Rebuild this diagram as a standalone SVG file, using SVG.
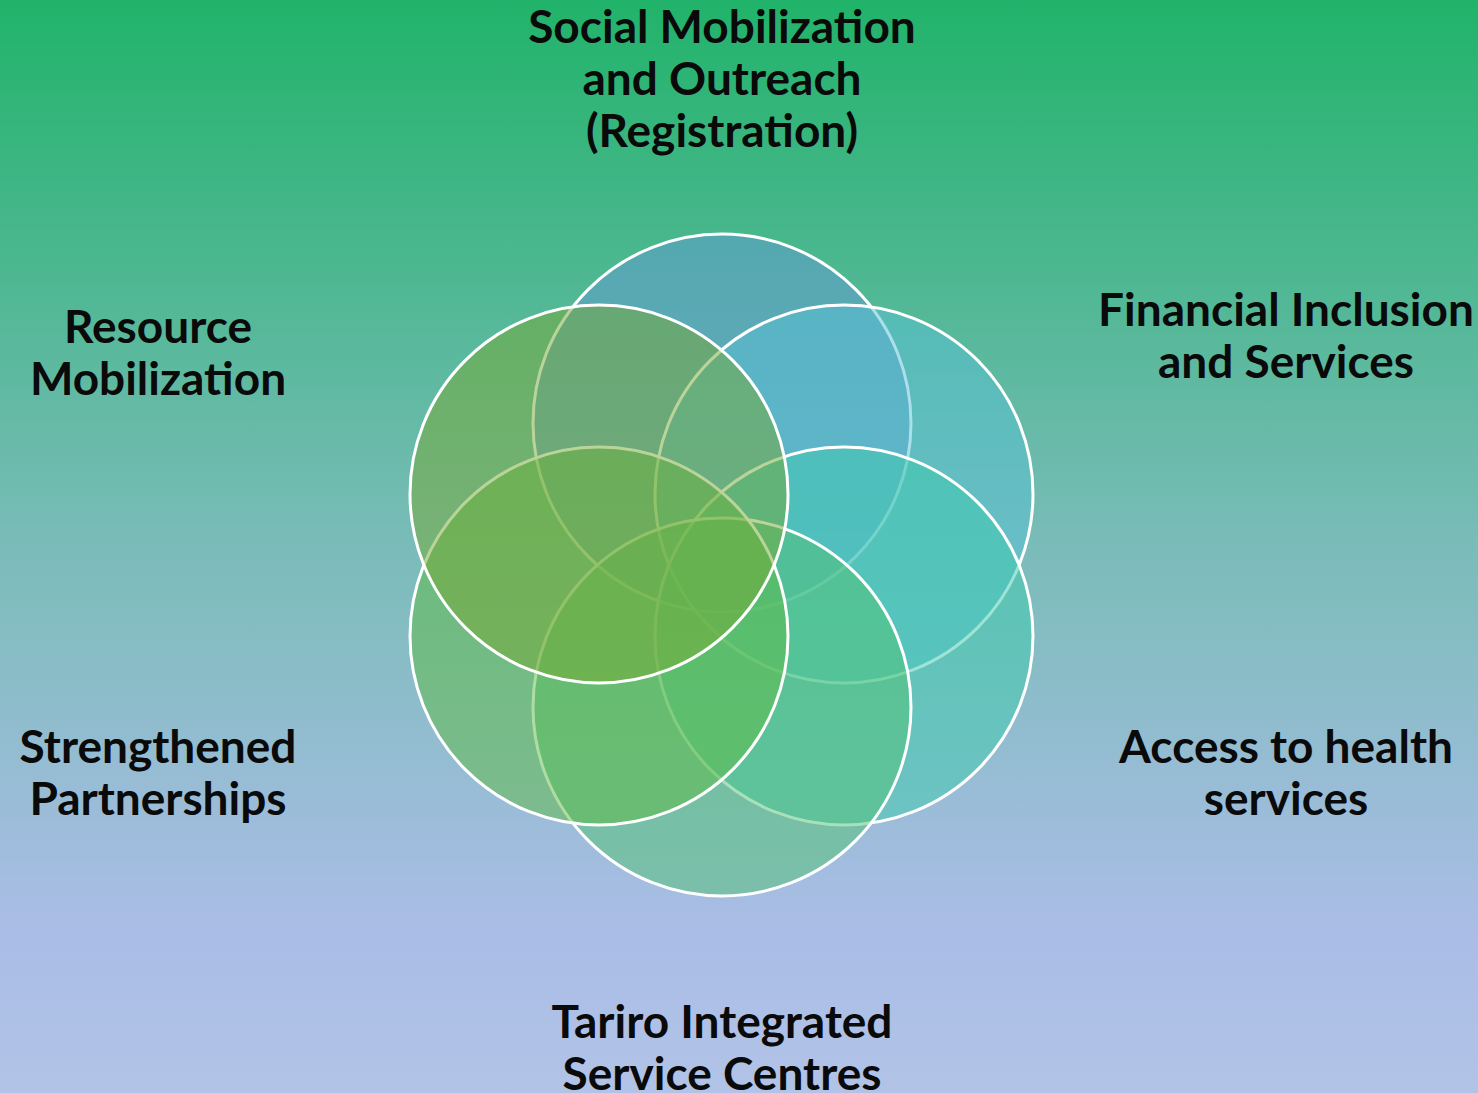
<svg xmlns="http://www.w3.org/2000/svg" width="1478" height="1093" viewBox="0 0 1478 1093">
<defs>
<linearGradient id="bg" x1="0" y1="0" x2="0" y2="1">
<stop offset="0" stop-color="#21b36a"/>
<stop offset="0.5" stop-color="#7abcb9"/>
<stop offset="0.85" stop-color="#aabde6"/>
<stop offset="1" stop-color="#b1c3e6"/>
</linearGradient>
</defs>
<style>
.c{stroke:#ffffff;stroke-width:3;fill-opacity:0.5}
text{font-family:Lato,"Open Sans","Liberation Sans",sans-serif;font-weight:700;font-size:46px;fill:#0a0a0a;text-anchor:middle}
</style>
<rect x="0" y="0" width="1478" height="1093" fill="url(#bg)"/>
<g id="circles">
<circle id="c-top" class="c" cx="722" cy="423" r="189" fill="#5f9ad2"/>
<circle id="c-ur" class="c" cx="844" cy="494" r="189" fill="#58c0d4"/>
<circle id="c-lr" class="c" cx="844" cy="636" r="189" fill="#3ecaae"/>
<circle id="c-bottom" class="c" cx="722" cy="707" r="189" fill="#52c274"/>
<circle id="c-ll" class="c" cx="599" cy="636" r="189" fill="#5eba44"/>
<circle id="c-ul" class="c" cx="599" cy="494" r="189" fill="#76a834"/>
</g>
<g id="label-social">
<text x="722" y="43">Social Mobilization</text>
<text x="722" y="95">and Outreach</text>
<text x="722" y="147">(Registration)</text>
</g>
<g id="label-financial">
<text x="1286" y="326">Financial Inclusion</text>
<text x="1286" y="378">and Services</text>
</g>
<g id="label-access">
<text x="1286" y="763">Access to health</text>
<text x="1286" y="815">services</text>
</g>
<g id="label-tariro">
<text x="722" y="1038">Tariro Integrated</text>
<text x="722" y="1090">Service Centres</text>
</g>
<g id="label-strengthened">
<text x="158" y="763">Strengthened</text>
<text x="158" y="815">Partnerships</text>
</g>
<g id="label-resource">
<text x="158" y="343">Resource</text>
<text x="158" y="395">Mobilization</text>
</g>
</svg>
